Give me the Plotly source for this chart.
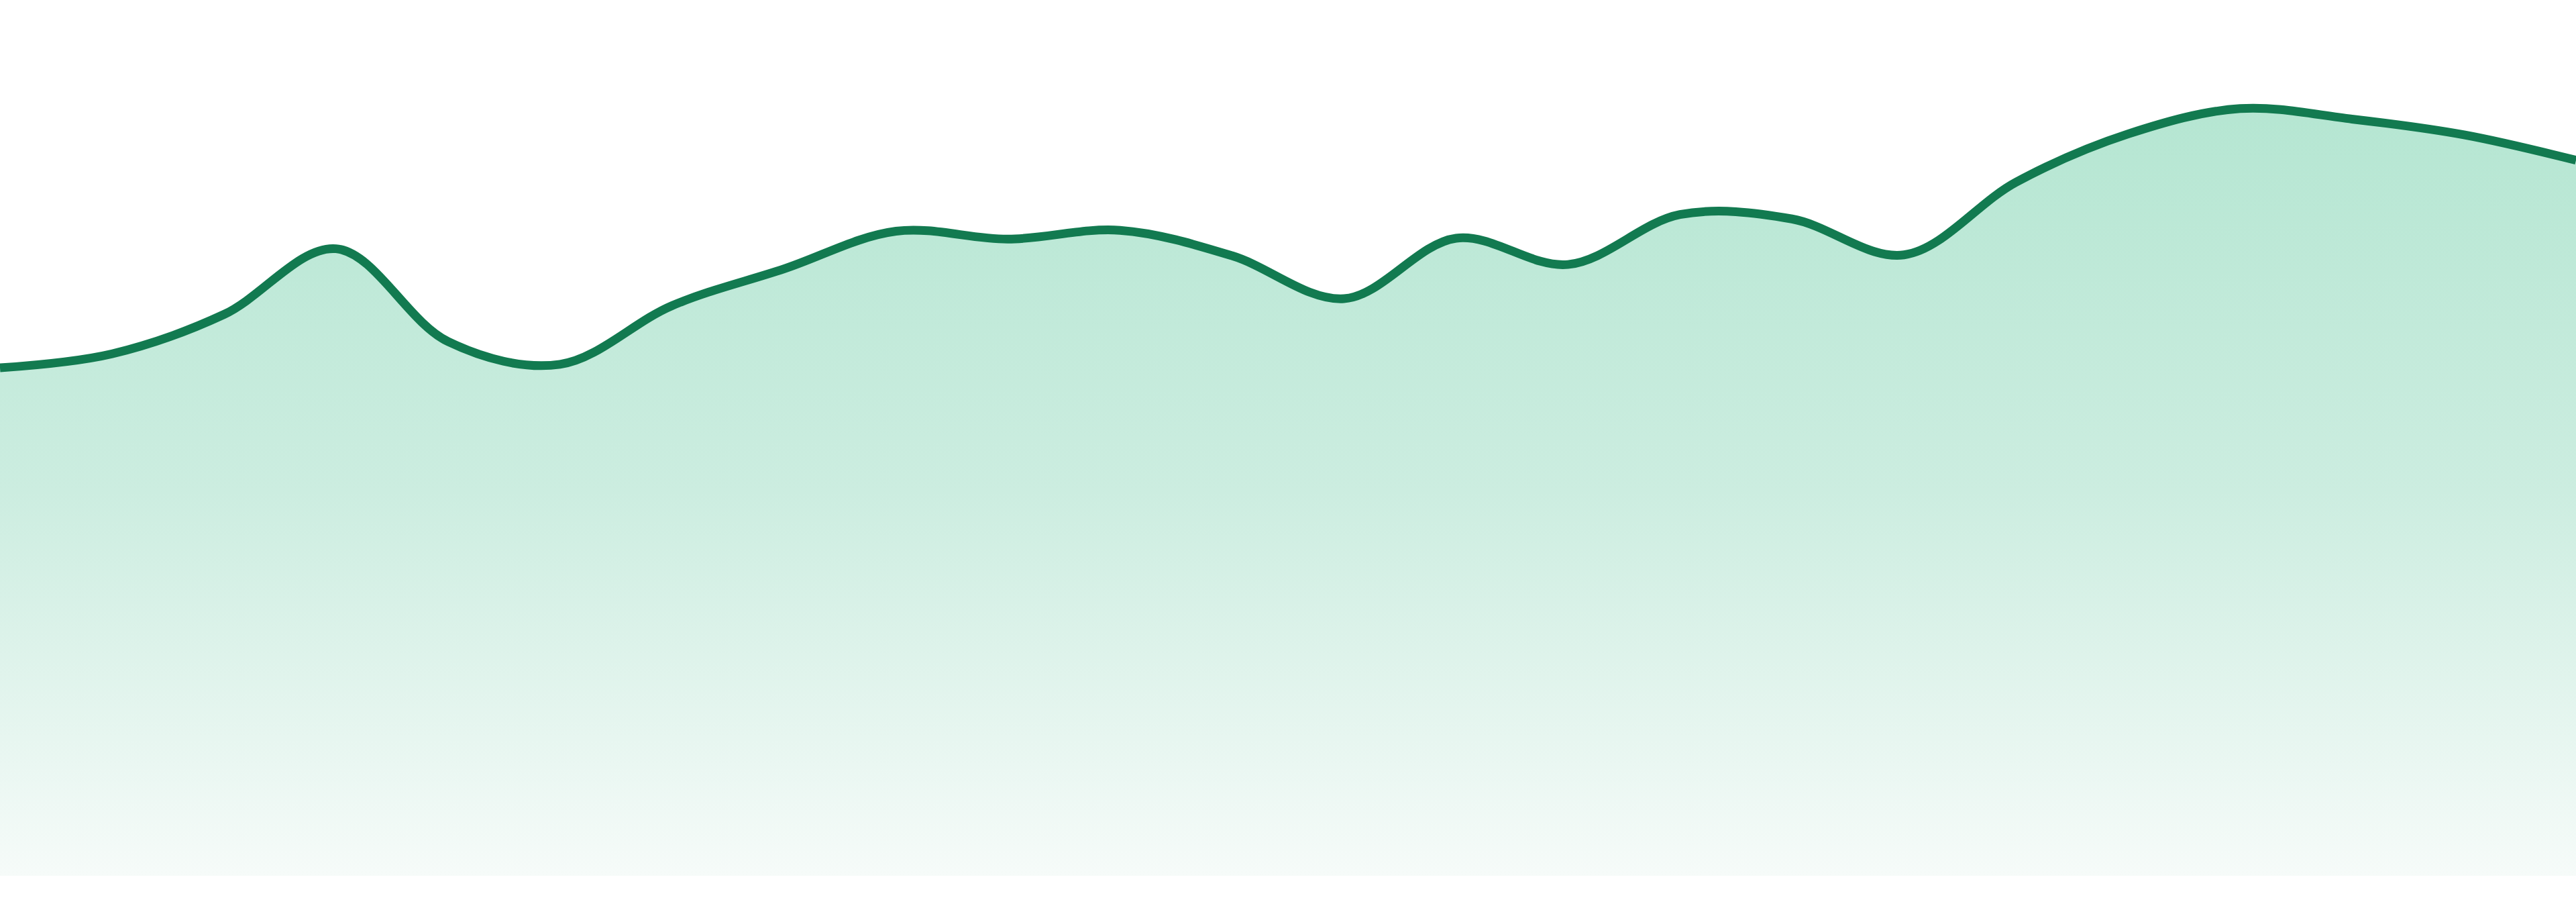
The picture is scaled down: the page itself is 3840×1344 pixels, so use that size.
import plotly.graph_objects as go

# Data: 24 evenly spaced samples of a single series (no axes shown)
days = list(range(1, 25))
values = [58.0, 59.6, 64.1, 71.6, 61.0, 58.4, 65.1, 69.3, 73.6, 72.7, 73.7, 70.8,
          65.9, 72.8, 69.8, 75.5, 75.0, 70.9, 79.2, 84.7, 87.6, 86.4, 84.6, 81.7]

line_color = '#127a50'

fig = go.Figure()

fig.add_trace(
    go.Scatter(
        x=days,
        y=values,
        mode='lines',
        line=dict(color=line_color, width=13, shape='spline', smoothing=1),
        fill='tozeroy',
        fillgradient=dict(
            type='vertical',
            colorscale=[[0, '#f6fbf9'], [0.5, '#ccede0'], [1, '#b5e6d2']],
        ),
        hoverinfo='skip',
        showlegend=False,
    )
)

fig.update_layout(
    width=3840,
    height=1344,
    margin=dict(l=0, r=0, t=0, b=39),
    paper_bgcolor='white',
    plot_bgcolor='white',
    xaxis=dict(visible=False, range=[1, 24]),
    yaxis=dict(visible=False, range=[0, 100]),
)

# drop the page's default body margin so the chart sits flush with the window
fig.write_html(
    "out.html",
    config={'displayModeBar': False},
    post_script="document.body.style.margin='0';document.body.style.overflow='hidden';",
)
